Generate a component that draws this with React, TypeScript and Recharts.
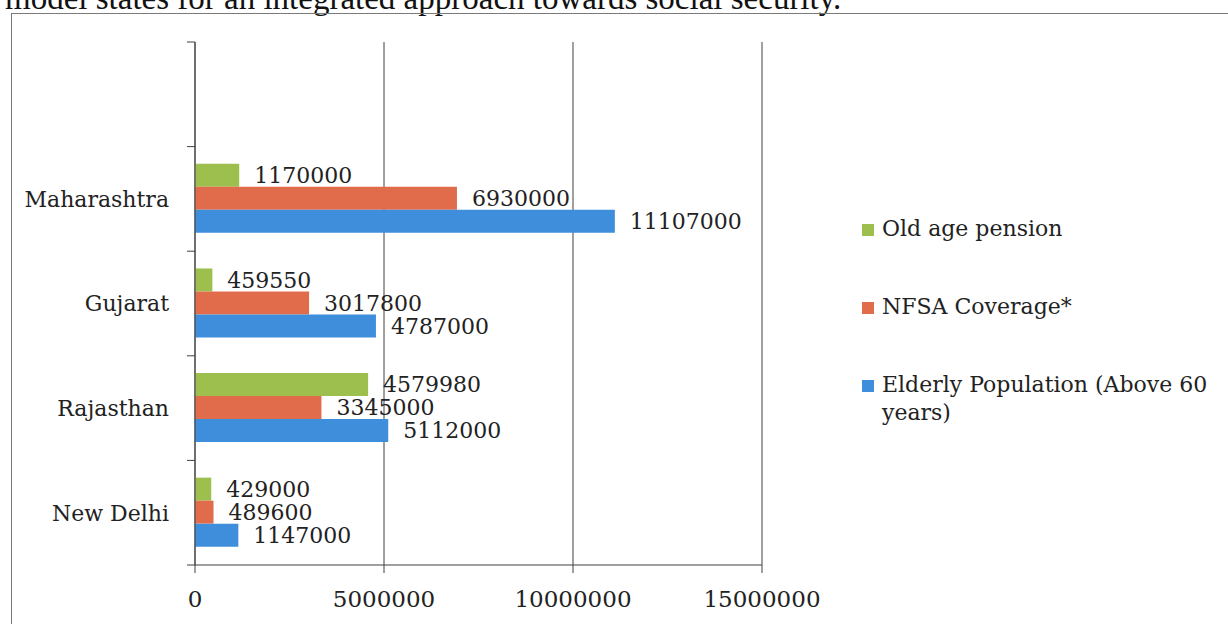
import * as React from "react";
import {
  BarChart,
  Bar,
  XAxis,
  YAxis,
  CartesianGrid,
  LabelList,
  Legend,
} from "recharts";

// states, top to bottom (the first row is an empty slot above Maharashtra)
const STATES = ["", "Maharashtra", "Gujarat", "Rajasthan", "New Delhi"];
const OLD_AGE_PENSION = [null, 1170000, 459550, 4579980, 429000];
const NFSA_COVERAGE = [null, 6930000, 3017800, 3345000, 489600];
const ELDERLY_POPULATION = [null, 11107000, 4787000, 5112000, 1147000];
const X_TICKS = [0, 5000000, 10000000, 15000000];

const SERIES = [
  { key: "oldAge", name: "Old age pension", color: "#9cbf4e" },
  { key: "nfsa", name: "NFSA Coverage*", color: "#e06c4c" },
  { key: "elderly", name: "Elderly Population (Above 60 years)", color: "#3f8edb" },
];

const rows = STATES.map((state, i) => ({
  state,
  oldAge: OLD_AGE_PENSION[i],
  nfsa: NFSA_COVERAGE[i],
  elderly: ELDERLY_POPULATION[i],
}));

const FONT = "'DejaVu Serif', serif";
const INK = "#222";
const AXIS_COLOR = "#404040";

const CHART_W = 1228;
const CHART_H = 624;
const PLOT_TOP = 42;
const PLOT_BOTTOM = 565;
const AXIS_X = 195;
const PLOT_RIGHT = 762;
const BAND = (PLOT_BOTTOM - PLOT_TOP) / STATES.length;

/* category label + small tick on the boundary between states */
const StateTick = (props: any) => {
  const { x, y, payload, index } = props;
  const half = BAND / 2;
  return (
    <g>
      <line x1={AXIS_X - 8} x2={AXIS_X} y1={y - half} y2={y - half} stroke={AXIS_COLOR} />
      {index === STATES.length - 1 && (
        <line x1={AXIS_X - 8} x2={AXIS_X} y1={y + half} y2={y + half} stroke={AXIS_COLOR} />
      )}
      <text x={x} y={y} dy="0.36em" textAnchor="end" fontFamily={FONT} fontSize={22} fill={INK}>
        {payload.value}
      </text>
    </g>
  );
};

const LegendBox = () => (
  <div style={{ fontFamily: FONT, fontSize: 22, lineHeight: "28px", color: INK }}>
    {SERIES.map((s) => (
      <div key={s.key} style={{ position: "relative", paddingLeft: 20, marginBottom: 50 }}>
        <span
          style={{ position: "absolute", left: 0, top: 9, width: 12, height: 12, background: s.color }}
        />
        {s.name}
      </div>
    ))}
  </div>
);

export default function App() {
  return (
    <div
      style={{
        position: "absolute",
        left: 0,
        top: 0,
        width: CHART_W,
        height: CHART_H,
        overflow: "hidden",
        background: "#fff",
      }}
    >
      <div
        style={{
          position: "absolute",
          left: 5,
          top: -18,
          fontFamily: "'Liberation Serif', serif",
          fontSize: 33,
          lineHeight: "32px",
          whiteSpace: "nowrap",
          color: "#111",
        }}
      >
        model states for an integrated approach towards social security.
      </div>
      <div
        style={{
          position: "absolute",
          left: 11,
          top: 13,
          width: 1300,
          height: 700,
          border: "1px solid #7a7a7a",
        }}
      />
      <div style={{ position: "absolute", left: 0, top: 0 }}>
        <BarChart
          width={CHART_W}
          height={CHART_H}
          data={rows}
          layout="vertical"
          margin={{ top: PLOT_TOP, right: CHART_W - PLOT_RIGHT, bottom: 0, left: 0 }}
          barCategoryGap="16.5%"
          barGap={0}
        >
          <CartesianGrid horizontal={false} stroke={AXIS_COLOR} />
          <XAxis
            type="number"
            domain={[0, 15000000]}
            ticks={X_TICKS}
            interval={0}
            height={CHART_H - PLOT_BOTTOM}
            axisLine={{ stroke: AXIS_COLOR }}
            tickLine={{ stroke: AXIS_COLOR }}
            tickSize={8}
            tickMargin={18}
            tick={{ fontFamily: FONT, fontSize: 23, fill: INK }}
          />
          <YAxis
            type="category"
            dataKey="state"
            width={AXIS_X}
            axisLine={{ stroke: AXIS_COLOR }}
            tickLine={false}
            tickSize={0}
            tickMargin={26}
            interval={0}
            tick={<StateTick />}
          />
          {SERIES.map((s) => (
            <Bar key={s.key} dataKey={s.key} name={s.name} fill={s.color} isAnimationActive={false}>
              <LabelList
                dataKey={s.key}
                position="right"
                offset={15}
                fontFamily={FONT}
                fontSize={22}
                fill={INK}
              />
            </Bar>
          ))}
          <Legend
            layout="vertical"
            align="center"
            verticalAlign="middle"
            content={<LegendBox />}
            wrapperStyle={{ left: 862, top: 215, width: 360 }}
          />
        </BarChart>
      </div>
    </div>
  );
}
